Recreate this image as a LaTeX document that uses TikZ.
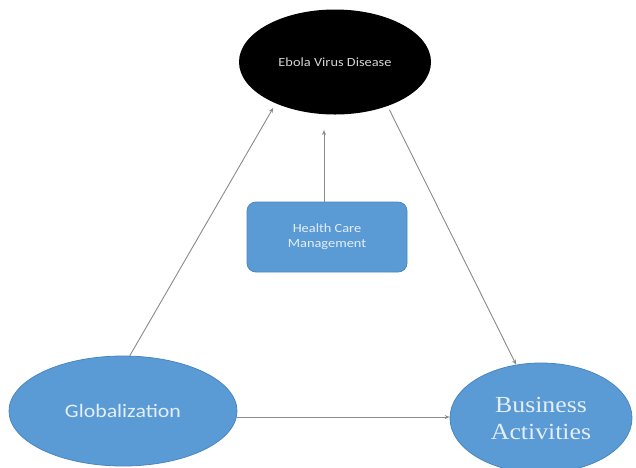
\documentclass[tikz,border=0pt]{standalone}
\usepackage{fontspec}
\setmainfont{Liberation Serif}
\newfontfamily\calib[FakeStretch=1.15]{Carlito}
\newfontfamily\busfont[FakeStretch=1.12]{Liberation Serif}
\usetikzlibrary{shapes.geometric,arrows.meta}
\definecolor{offblue}{HTML}{5B9BD5}
\definecolor{offedge}{HTML}{4A86BE}
\definecolor{paletext}{HTML}{E4EEF8}
\definecolor{greytext}{HTML}{D4D4D4}
\definecolor{arrowgrey}{HTML}{8A8A8A}
\begin{document}
\begin{tikzpicture}[x=1pt,y=-1pt,
  blueell/.style={ellipse,fill=offblue,draw=offedge,line width=0.8pt,inner sep=0pt,text=paletext,align=center},
  blackell/.style={ellipse,fill=black,inner sep=0pt,text=greytext,align=center},
  bluebox/.style={rectangle,rounded corners=9pt,fill=offblue,draw=offedge,line width=0.8pt,inner sep=0pt,text=paletext,align=center},
  conn/.style={draw=arrowgrey,line width=0.9pt,-{Stealth[length=5pt,width=4pt]}}]
\useasboundingbox (0,0) rectangle (636,467);
\node[blackell,minimum width=192pt,minimum height=105pt,font=\calib\fontsize{12.5}{14}\selectfont] (ebola) at (335,62) {Ebola Virus Disease};
\node[bluebox,minimum width=160pt,minimum height=70pt,font=\calib\fontsize{12.5}{15}\selectfont] (health) at (327,237) {Health Care\\Management};
\node[blueell,minimum width=228pt,minimum height=110pt,font=\calib\fontsize{19}{22}\selectfont] (glob) at (123,411) {Globalization};
\node[blueell,minimum width=182pt,minimum height=110pt,font=\busfont\fontsize{23}{27}\selectfont] (bus) at (541,418) {Business\\Activities};
\coordinate (htip) at (324,130);
\draw[conn,shorten >=5pt] (glob.83) -- (ebola.215);
\draw[conn] (health.north -| htip) -- (htip);
\draw[conn,shorten <=4pt] (ebola.-40) -- (bus.115);
\draw[conn] (glob.east |- 0,417) -- (bus.west |- 0,417);
\end{tikzpicture}
\end{document}
